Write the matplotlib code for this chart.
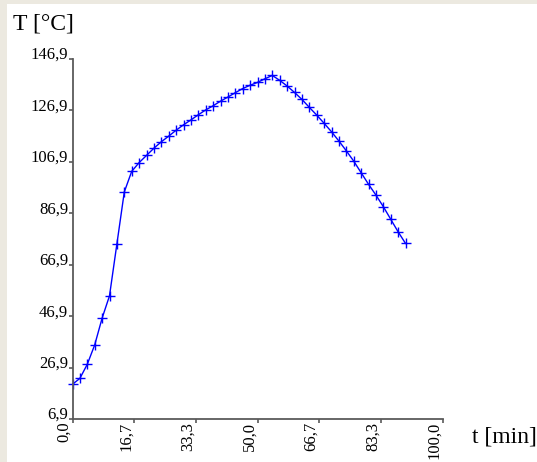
import matplotlib.pyplot as plt
from matplotlib.patches import Rectangle

# === Data ===
t_min = [0, 2, 4, 6, 8, 10, 12, 14, 16, 18,
         20, 22, 24, 26, 28, 30, 32, 34, 36, 38,
         40, 42, 44, 46, 48, 50, 52, 54, 56, 58,
         60, 62, 64, 66, 68, 70, 72, 74, 76, 78,
         80, 82, 84, 86, 88, 90]
temp_c = [20.4, 22.7, 28.2, 35.7, 46.1, 54.8, 75.0, 95.2, 103.2, 106.6,
          109.4, 112.2, 114.7, 116.9, 119.2, 121.3, 123.2, 125.2, 127.1, 128.7,
          130.5, 132.1, 133.8, 135.4, 136.7, 137.8, 139.2, 140.5, 138.6, 136.4,
          133.9, 131.2, 128.1, 125.1, 121.9, 118.6, 115.0, 111.2, 107.2, 102.7,
          98.2, 94.0, 89.5, 84.6, 79.7, 75.2]

x_ticks = [0.0, 16.7, 33.3, 50.0, 66.7, 83.3, 100.0]
x_labels = ["0,0", "16,7", "33,3", "50,0", "66,7", "83,3", "100,0"]
y_ticks = [6.9, 26.9, 46.9, 66.9, 86.9, 106.9, 126.9, 146.9]
y_labels = ["6,9", "26,9", "46,9", "66,9", "86,9", "106,9", "126,9", "146,9"]

plt.rcParams['font.family'] = ['Liberation Serif', 'DejaVu Serif']

W, H = 537, 462
fig = plt.figure(figsize=(W / 100, H / 100), dpi=100, facecolor='#ECE9E0')
# white panel, beige strip on the left and top
fig.patches.append(Rectangle((7 / W, 0), 1 - 7 / W, (H - 4) / H,
                             transform=fig.transFigure, facecolor='white',
                             edgecolor='none', zorder=-1))

ax = fig.add_axes([72.5 / W, (H - 419) / H, 370 / W, 360 / H])
ax.set_facecolor('none')

ax.plot(t_min, temp_c, color='#0000FF', linewidth=1.0, marker='+',
        markersize=7.5, markeredgewidth=1.0, clip_on=False)

ax.set_xlim(0, 100)
ax.set_ylim(6.9, 146.9)

for side in ['top', 'right']:
    ax.spines[side].set_visible(False)
for side in ['left', 'bottom']:
    ax.spines[side].set_color('#5a5a5a')
    ax.spines[side].set_linewidth(1.3)

ax.set_xticks(x_ticks)
ax.set_xticklabels(x_labels, rotation=90, ha='right', fontsize=12)
ax.set_yticks(y_ticks)
ax.set_yticklabels(y_labels, va='baseline', fontsize=12)
ax.tick_params(axis='x', length=3, width=1.2, color='#5a5a5a', pad=-1)
ax.tick_params(axis='y', length=3.2, width=1.2, color='#5a5a5a', pad=0)

fig.text(13 / W, (H - 29.3) / H, "T [°C]", fontsize=17, va='baseline', ha='left')
fig.text(471.7 / W, (H - 443) / H, "t [min]", fontsize=17, va='baseline', ha='left')

fig.savefig('out.png', dpi=100, facecolor=fig.get_facecolor())
